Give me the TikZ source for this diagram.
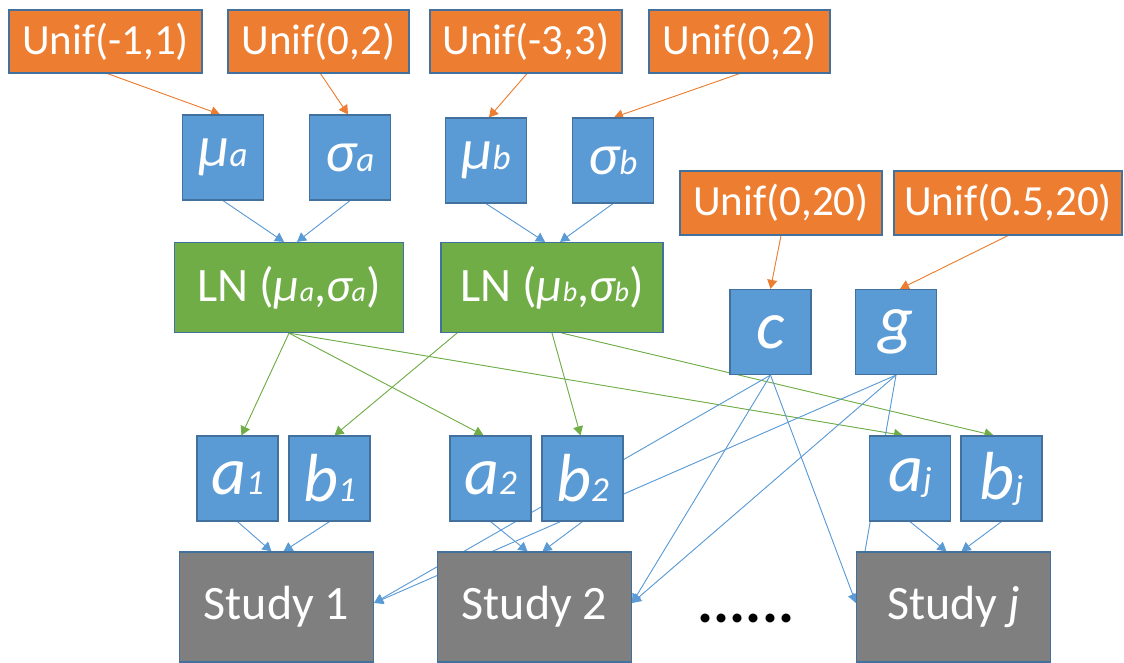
\documentclass[tikz,border=0pt]{standalone}
\usepackage{fontspec}
\setmainfont{Carlito}
\usetikzlibrary{arrows.meta,backgrounds}

\definecolor{boxblue}{HTML}{5B9BD5}
\definecolor{rimblue}{HTML}{41719C}
\definecolor{priororange}{HTML}{ED7D31}
\definecolor{distgreen}{HTML}{70AD47}
\definecolor{studygray}{HTML}{7F7F7F}

\newcommand\vsub[2][35]{{\fontsize{#1}{#1}\selectfont #2}}

\begin{document}
\begin{tikzpicture}[x=1pt,y=-1pt,
  box/.style={draw=rimblue,line width=1.2pt,text=white,inner sep=0pt},
  prior/.style={box,fill=priororange,minimum height=63pt,font=\fontsize{43}{43}\selectfont},
  param/.style={box,fill=boxblue,minimum width=81pt,minimum height=85pt,font=\fontsize{58}{58}\selectfont\itshape},
  letter/.style={param,font=\fontsize{68}{68}\selectfont\itshape},
  dist/.style={box,fill=distgreen,minimum height=90pt,font=\fontsize{48}{48}\selectfont},
  study/.style={box,fill=studygray,minimum width=194pt,minimum height=110pt,font=\fontsize{48}{48}\selectfont},
  conn/.style={-{Triangle[length=9pt,width=10pt]},line width=0.9pt},
  prioredge/.style={conn,draw=priororange,fill=priororange},
  paramedge/.style={conn,draw=boxblue,fill=boxblue},
  distedge/.style={conn,draw=distgreen,fill=distgreen},
]
\useasboundingbox (0,0) rectangle (1124,663);

% priors
\node[prior,minimum width=193pt] (U1) at (105.5,41.5) {Unif(-1,1)};
\node[prior,minimum width=181pt] (U2) at (318.5,41.5) {Unif(0,2)};
\node[prior,minimum width=192pt] (U3) at (526,41.5) {Unif(-3,3)};
\node[prior,minimum width=181pt] (U4) at (739.5,41.5) {Unif(0,2)};
\node[prior,minimum width=202pt,minimum height=64pt] (U5) at (781,203) {Unif(0,20)};
\node[prior,minimum width=228pt,minimum height=64pt] (U6) at (1008,203) {Unif(0.5,20)};

% hyperparameters
\node[param] (mua) at (223,157.5) {μ\vsub{a}};
\node[param] (siga) at (350,157.5) {σ\vsub{a}};
\node[param] (mub) at (486,160.5) {μ\vsub{b}};
\node[param] (sigb) at (613,160.5) {σ\vsub{b}};

% lognormals
\node[dist,minimum width=229pt] (LNa) at (289,287.5) {LN (\textit{μ\vsub[28]{a}},\textit{σ\vsub[28]{a}})};
\node[dist,minimum width=222pt] (LNb) at (552,287.5) {LN (\textit{μ\vsub[28]{b}},\textit{σ\vsub[28]{b}})};

% shared parameters
\node[letter] (c) at (770.5,332) {c};
\node[letter] (g) at (896,332) {g};

% study parameters
\node[letter] (a1) at (237.5,478.5) {a\vsub{1}};
\node[letter] (b1) at (329.5,478.5) {b\vsub{1}};
\node[letter] (a2) at (490.5,478.5) {a\vsub{2}};
\node[letter] (b2) at (582.5,478.5) {b\vsub{2}};
\node[letter] (aj) at (910,478.5) {a\vsub{j}};
\node[letter] (bj) at (1001.5,478.5) {b\vsub{j}};

% studies
\node[study] (S1) at (276.5,607) {Study 1};
\node[study] (S2) at (534.5,607) {Study 2};
\node[study] (Sj) at (953.5,607) {Study \textit{j}};
\node[anchor=base,font=\fontsize{60}{60}\selectfont\bfseries] (dots) at (746,622) {......};

\begin{scope}[on background layer]
\draw[prioredge] ([xshift=2]U1.south) -- ([xshift=-3]mua.north);
\draw[prioredge] ([xshift=2]U2.south) -- ([xshift=-2]siga.north);
\draw[prioredge] ([xshift=1]U3.south) -- ([xshift=3]mub.north);
\draw[prioredge] (U4.south) -- ([xshift=1]sigb.north);
\draw[prioredge] (U5.south) -- (c.north);
\draw[prioredge] (U6.south) -- ([xshift=4]g.north);

\draw[paramedge] (mua.south) -- ([xshift=-5]LNa.north);
\draw[paramedge] (siga.south) -- ([xshift=8]LNa.north);
\draw[paramedge] (mub.south) -- ([xshift=-7]LNb.north);
\draw[paramedge] (sigb.south) -- ([xshift=8]LNb.north);

\draw[distedge] (LNa.south) -- ([xshift=4]a1.north);
\draw[distedge] (LNa.south) -- ([xshift=-7]a2.north);
\draw[distedge] (LNa.south) -- ([xshift=-7]aj.north);
\draw[distedge] ([xshift=-95]LNb.south) -- ([xshift=5]b1.north);
\draw[distedge] (LNb.south) -- ([xshift=-2]b2.north);
\draw[distedge] ([xshift=10]LNb.south) -- ([xshift=-8]bj.north);

\draw[paramedge] (a1.south) -- ([xshift=-5]S1.north);
\draw[paramedge] (b1.south) -- ([xshift=7]S1.north);
\draw[paramedge] (a2.south) -- ([xshift=-7]S2.north);
\draw[paramedge] (b2.south) -- ([xshift=8]S2.north);
\draw[paramedge] (aj.south) -- ([xshift=-7]Sj.north);
\draw[paramedge] (bj.south) -- ([xshift=8]Sj.north);

\foreach \src in {c,g}{
  \draw[paramedge] (\src.south) -- ([yshift=4]S1.east);
  \draw[paramedge] (\src.south) -- ([yshift=4]S2.east);
  \draw[paramedge] (\src.south) -- ([yshift=4]Sj.west);
}
\end{scope}
\end{tikzpicture}
\end{document}
